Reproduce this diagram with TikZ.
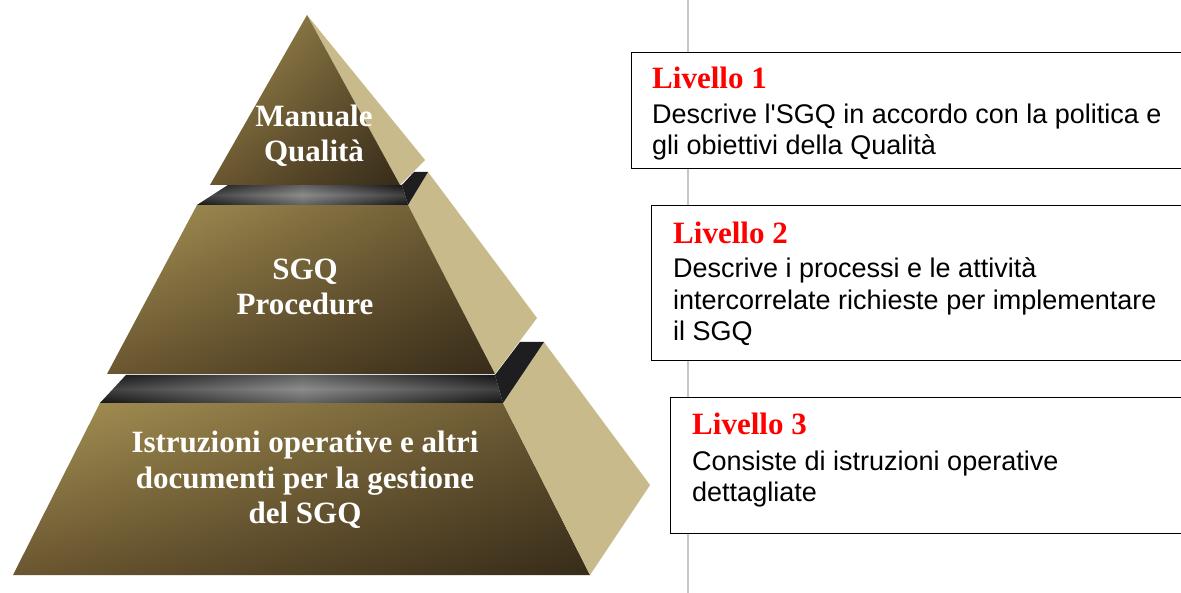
\documentclass[tikz,border=0pt]{standalone}
\usepackage{fontspec}
\usetikzlibrary{shadings}
\setmainfont{Liberation Serif}
\newfontfamily\bodyfont{Liberation Sans}[Ligatures=TeXOff]
\definecolor{tanside}{HTML}{C8BA8A}
\definecolor{goldUL}{HTML}{A89455}
\definecolor{goldUR}{HTML}{665430}
\definecolor{goldLL}{HTML}{6A5630}
\definecolor{goldLR}{HTML}{372C1A}
\definecolor{ledgeD}{HTML}{1E1E20}
\definecolor{ledgeL}{HTML}{5A5A5A}
\definecolor{vline}{HTML}{C6C6C6}
\begin{document}
\begin{tikzpicture}[x=1pt,y=-1pt,
  frontface/.style={upper left=goldUL, upper right=goldUR, lower left=goldLL, lower right=goldLR},
  sideface/.style={fill=tanside},
  ledgeface/.style={top color=ledgeD, bottom color=ledgeD, middle color=ledgeL},
  ledgeglow/.style={left color=black, right color=black, middle color=white, fill opacity=0.3},
  pyrtext/.style={font=\fontsize{31}{35}\selectfont\bfseries, text=white, inner sep=0pt, anchor=base},
  infobox/.style={draw=black, line width=1.2pt, fill=white, anchor=north west, inner sep=0pt, minimum width=580pt},
  lvltitle/.style={font=\fontsize{31}{35}\selectfont\bfseries, text=red, anchor=base west, inner sep=0pt},
  lvlbody/.style={font=\bodyfont\fontsize{27}{31}\selectfont, text=black, anchor=base west, inner sep=0pt}]
\useasboundingbox (0,0) rectangle (1181,593);
\clip (0,0) rectangle (1181,593);
\fill[white] (0,0) rectangle (1181,593);
% vertical guide line
\coordinate (vtop) at (688,0);
\coordinate (vbot) at (688,593);
\draw[vline, line width=2pt] (vtop) -- (vbot);
% tier 3
\shade[frontface] (100,403) -- (503,403) -- (590,575) -- (13,575) -- cycle;
\fill[sideface] (544,342) -- (650,485) -- (590,575) -- (503,403) -- cycle;
\fill[ledgeD] (495,375) -- (520,342) -- (544,342) -- (503,403) -- cycle;
\shade[ledgeface] (100,403) -- (126,375) -- (495,375) -- (503,403) -- cycle;
\shade[ledgeglow] (100,403) -- (126,375) -- (495,375) -- (503,403) -- cycle;
% tier 2
\fill[sideface] (428,172) -- (537,318) -- (495,374) -- (408,205) -- cycle;
\shade[frontface] (197,205) -- (408,205) -- (495,374) -- (107,374) -- cycle;
\fill[ledgeD] (402,185) -- (414,172) -- (428,172) -- (408,205) -- cycle;
\shade[ledgeface] (197,205) -- (228,185) -- (402,185) -- (408,205) -- cycle;
\shade[ledgeglow] (197,205) -- (228,185) -- (402,185) -- (408,205) -- cycle;
% tier 1
\fill[sideface] (307,15) -- (425,160) -- (400,185) -- cycle;
\shade[frontface] (307,15) -- (400,185) -- (210,185) -- cycle;
% pyramid labels
\node[pyrtext] (p1a) at (314,127) {Manuale};
\node[pyrtext] (p1b) at (314,162) {Qualità};
\node[pyrtext] (p2a) at (305,280) {SGQ};
\node[pyrtext] (p2b) at (305,315) {Procedure};
\node[pyrtext] (p3a) at (305,453) {Istruzioni operative e altri};
\node[pyrtext] (p3b) at (305,488) {documenti per la gestione};
\node[pyrtext] (p3c) at (305,523) {del SGQ};
% boxes
\node[infobox, minimum height=116pt] (box1) at (631,52) {};
\node[infobox, minimum height=155pt] (box2) at (651,205) {};
\node[infobox, minimum height=136pt] (box3) at (670,397) {};
% box texts
\node[lvltitle] (t1) at (652,89) {Livello 1};
\node[lvlbody] (d1a) at (652,124) {Descrive l'SGQ in accordo con la politica e};
\node[lvlbody] (d1b) at (652,155) {gli obiettivi della Qualità};
\node[lvltitle] (t2) at (673,244) {Livello 2};
\node[lvlbody] (d2a) at (673,278) {Descrive i processi e le attività};
\node[lvlbody] (d2b) at (673,310) {intercorrelate richieste per implementare};
\node[lvlbody] (d2c) at (673,341) {il SGQ};
\node[lvltitle] (t3) at (692,435) {Livello 3};
\node[lvlbody] (d3a) at (692,470) {Consiste di istruzioni operative};
\node[lvlbody] (d3b) at (692,501) {dettagliate};
\end{tikzpicture}
\end{document}
